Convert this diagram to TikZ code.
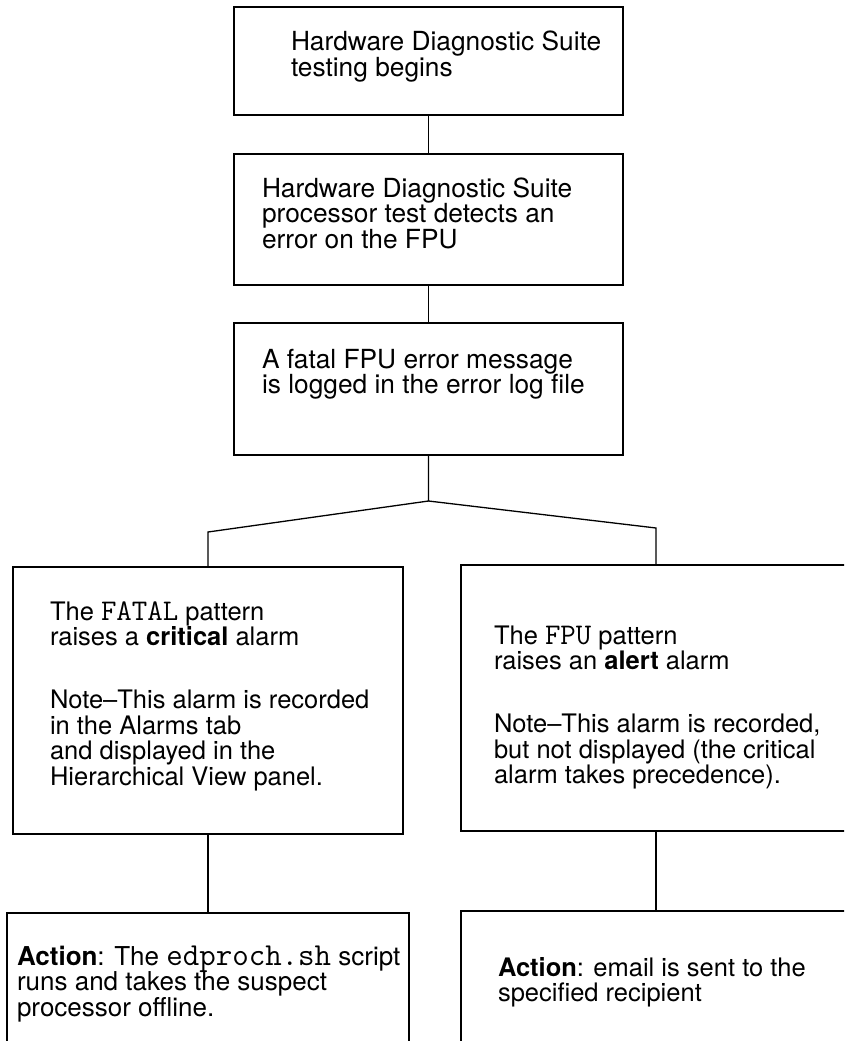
\documentclass[tikz,border=0pt]{standalone}
\usepackage{fontspec}
\setmainfont{TeX Gyre Heros}
\newcommand\txtblock[1]{\vtop{\baselineskip=25.7pt\lineskiplimit=-100pt\lineskip=0pt #1}}
\newcommand\tline[1]{\hbox{\strut #1}}
\newcommand\pgap{\vskip 37pt}
\newcommand\monosz{30}
\newcommand\mono[1]{{\fontsize{\monosz}{25}\selectfont\ttfamily #1}}
\begin{document}
\begin{tikzpicture}[x=1pt,y=-1pt,
  box/.style={draw, line width=1.3pt, rectangle, inner sep=0pt, outer sep=0pt},
  txt/.style={anchor=base west, inner sep=0pt, outer sep=0pt, font=\fontsize{25.5}{25.5}\selectfont},
  bigtxt/.style={txt, font=\fontsize{26.3}{26.3}\selectfont},
  link/.style={draw, line width=1.3pt}]
\useasboundingbox (0,0) rectangle (844,1041);
\clip (0,0) rectangle (844,1041);
\fill[white] (0,0) rectangle (844,1041);
% boxes
\node[box, minimum width=389pt, minimum height=108pt] (b1) at (428.5,61) {};
\node[box, minimum width=389pt, minimum height=131pt] (b2) at (428.5,219.5) {};
\node[box, minimum width=389pt, minimum height=132pt] (b3) at (428.5,389) {};
\node[box, minimum width=390pt, minimum height=267pt] (lb) at (208,700.5) {};
\node[box, minimum width=399pt, minimum height=266pt] (rb) at (660.5,698) {};
\node[box, minimum width=402pt, minimum height=147pt] (la) at (208,986.5) {};
\node[box, minimum width=399pt, minimum height=149pt] (ra) at (660.5,985.5) {};
% texts
\node[bigtxt] (t1) at (291,51) {\txtblock{\tline{Hardware Diagnostic Suite}\tline{testing begins}}};
\node[bigtxt] (t2) at (262,197) {\txtblock{\tline{Hardware Diagnostic Suite}\tline{processor test detects an}\tline{error on the FPU}}};
\node[bigtxt] (t3) at (262,368) {\txtblock{\tline{A fatal FPU error message}\tline{is logged in the error log file}}};
\node[txt] (tl) at (50,620) {\txtblock{\tline{The \mono{FATAL} pattern}\tline{raises a \textbf{critical} alarm}\pgap\tline{Note\textendash This alarm is recorded}\tline{in the Alarms tab}\tline{and displayed in the}\tline{Hierarchical View panel.}}};
\node[txt] (tr) at (494,644) {\txtblock{\tline{The \mono{FPU} pattern}\tline{raises an \textbf{alert} alarm}\pgap\tline{Note\textendash This alarm is recorded,}\tline{but not displayed (the critical}\tline{alarm takes precedence).}}};
\node[txt, font=\fontsize{26}{26}\selectfont] (tla) at (17,965) {\renewcommand\monosz{32}\txtblock{\tline{\textbf{Action}: The \mono{edproch.sh} script}\tline{runs and takes the suspect}\tline{processor offline.}}};
\node[txt] (tra) at (498,976) {\txtblock{\tline{\textbf{Action}: email is sent to the}\tline{specified recipient}}};
% connectors
\coordinate (j) at (428.5,501);
\coordinate (ls) at (208,532);
\coordinate (rs) at (656,528);
\draw[link] (b1.south) -- (b2.north);
\draw[link] (b2.south) -- (b3.north);
\draw[link, line join=miter] (b3.south) -- (j) -- (ls) -- (lb.north);
\draw[link, line join=miter] (j) -- (rs) -- (rs |- rb.north);
\draw[link] (lb.south) -- (la.north);
\draw[link] (rb.south -| rs) -- (ra.north -| rs);
\end{tikzpicture}
\end{document}
